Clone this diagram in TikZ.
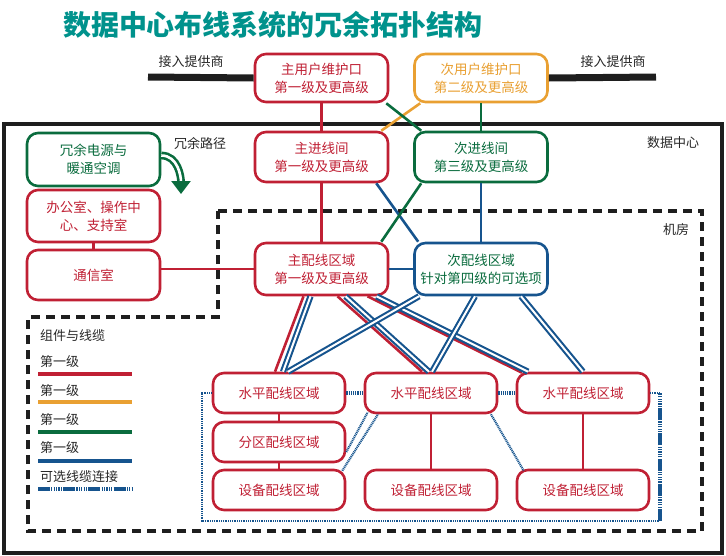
\documentclass[tikz,border=0pt]{standalone}
\usepackage{fontspec}
\setmainfont{Noto Sans CJK SC}
\usetikzlibrary{arrows.meta}

\definecolor{cabred}{RGB}{192,32,52}
\definecolor{cabora}{RGB}{233,160,50}
\definecolor{cabgrn}{RGB}{10,108,62}
\definecolor{cabblu}{RGB}{22,84,142}
\definecolor{titleteal}{RGB}{0,146,140}
\definecolor{framegray}{RGB}{30,30,30}

\begin{document}
\begin{tikzpicture}[x=1pt,y=-1pt,
        box/.style={draw,rounded corners=11pt,line width=2.6pt,fill=white,
            minimum width=133pt,minimum height=50pt,align=center,
            font=\fontsize{13.5}{18}\selectfont},
        redbox/.style={box,draw=cabred,text=cabred},
        orangebox/.style={box,draw=cabora,text=cabora},
        greenbox/.style={box,draw=cabgrn,text=cabgrn},
        bluebox/.style={box,draw=cabblu,text=cabgrn},
        areabox/.style={redbox,minimum width=132pt,minimum height=40pt},
        redline/.style={draw=cabred,line width=2.6pt},
        orangeline/.style={draw=cabora,line width=2.6pt},
        greenline/.style={draw=cabgrn,line width=2.6pt},
        blueline/.style={draw=cabblu,line width=2.6pt},
        bluepair/.style={draw=cabblu,line width=2.1pt,double=white,double distance=2pt},
        optthin/.style={draw=cabblu,line width=2.2pt,dash pattern=on 1pt off 0.8pt},
        optstripe/.style={draw=cabblu,line width=4pt,dash pattern=on 1.2pt off 1pt},
        optlink/.style={draw=cabblu,line width=4pt,dash pattern=on 12pt off 1.2pt on 1.2pt off 1.2pt on 1.2pt off 1.2pt on 1.2pt off 1.2pt on 1.2pt off 1.2pt on 1.2pt off 1.2pt},
        plaintext/.style={inner sep=0pt,font=\fontsize{13}{16}\selectfont,text=black!85},
    ]
        \useasboundingbox (0,0) rectangle (726,555);

        % Coordinates
        \coordinate (provL) at (148,77);
        \coordinate (provR) at (656,77);
        \coordinate (redund) at (181,194);
        \coordinate (loopTL) at (202,393);
        \coordinate (loopBL) at (202,521);
        \coordinate (loopBR) at (660,521);
        \coordinate (loopTR) at (660,393);

        % Title
        \node[font=\fontsize{28}{32}\selectfont\bfseries,text=titleteal] (title) at (273,25) {数据中心布线系统的冗余拓扑结构};

        % Data centre and computer room
        \draw[framegray,line width=4pt] (4,124) rectangle (722,553);
        \draw[framegray,line width=3.6pt,dash pattern=on 9pt off 6pt]
            (218,211) -- (702,211) -- (702,531) -- (28,531) -- (28,317) -- (218,317) -- cycle;
        \node[plaintext] (dclabel) at (673,143) {数据中心};
        \node[plaintext] (roomlabel) at (676,230) {机房};
        \node[plaintext] (pathlabel) at (200,143) {冗余路径};

        % Access providers
        \node[plaintext] (provLlabel) at (191,62) {接入提供商};
        \node[plaintext] (provRlabel) at (613,62) {接入提供商};

        % Boxes
        \node[redbox,minimum height=48pt] (mainmp) at (321.5,78) {主用户维护口\\第一级及更高级};
        \node[orangebox,minimum height=48pt] (secmp) at (481,78) {次用户维护口\\第二级及更高级};
        \node[redbox] (mainer) at (321.5,157) {主进线间\\第一级及更高级};
        \node[greenbox] (secer) at (481,157) {次进线间\\第三级及更高级};
        \node[greenbox,minimum height=53pt] (power) at (93.5,159.5) {冗余电源与\\暖通空调};
        \node[redbox,minimum height=52pt] (office) at (93.5,216) {办公室、操作中\\心、支持室};
        \node[redbox] (telecom) at (93.5,275) {通信室};
        \node[redbox,minimum height=52pt] (mda) at (321.5,269) {主配线区域\\第一级及更高级};
        \node[bluebox,minimum height=52pt] (sda) at (481,269) {次配线区域\\针对第四级的可选项};
        \node[areabox] (hda1) at (279,393) {水平配线区域};
        \node[areabox] (hda2) at (431,393) {水平配线区域};
        \node[areabox] (hda3) at (583,393) {水平配线区域};
        \node[areabox] (zda) at (279,442) {分区配线区域};
        \node[areabox] (eda1) at (279,490) {设备配线区域};
        \node[areabox] (eda2) at (431,490) {设备配线区域};
        \node[areabox] (eda3) at (583,490) {设备配线区域};

        % Provider feeds
        \draw[framegray,line width=7pt] (provL) -- (mainmp.west);
        \draw[framegray,line width=7pt] (secmp.east) -- (provR);

        % Entrance links
        \draw[redline] (mainmp) -- (mainer);
        \draw[greenline] (secmp) -- (secer);
        \draw[orangeline] ([xshift=7pt]secmp.south west) -- ([xshift=-8pt]mainer.north east);
        \draw[greenline] ([xshift=-3pt]mainmp.south east) -- ([xshift=8pt]secer.north west);
        \draw[redline] (mainer) -- (mda);
        \draw[blueline] (secer) -- (sda);
        \draw[blueline] ([xshift=-13pt]mainer.south east) -- ([xshift=5pt]sda.north west);
        \draw[greenline] ([xshift=8pt]secer.south west) -- ([xshift=-8pt]mda.north east);

        % Support rooms
        \draw[greenline,double=white,double distance=2.6pt,-{Triangle[width=19pt,length=13pt]}]
            ([yshift=4pt]power.east) to[out=0,in=90] (redund);
        \draw[redline] (office) -- (telecom);
        \draw[redline] (telecom.east |- mda.west) -- (mda.west);
        \draw[blueline] (mda.east) -- (sda.west);

        % Backbone cabling
        \draw[redline] ([xshift=-18pt]mda.south) -- ([xshift=-4pt]hda1.north);
        \draw[redline] ([xshift=16pt]mda.south) -- ([xshift=-9pt]hda2.north);
        \draw[redline] ([xshift=46pt]mda.south) -- ([xshift=-61pt,yshift=-1pt]hda3.north);
        \draw[bluepair] ([xshift=-11pt]mda.south) -- ([xshift=4pt]hda1.north);
        \draw[bluepair] ([xshift=24pt]mda.south) -- ([xshift=-2pt]hda2.north);
        \draw[bluepair] ([xshift=55pt]mda.south) -- ([xshift=-55pt]hda3.north);
        \draw[bluepair] ([xshift=-62pt]sda.south) -- ([xshift=9pt]hda1.north);
        \draw[bluepair] ([xshift=-6pt]sda.south) -- ([xshift=1pt]hda2.north);
        \draw[bluepair] ([xshift=40pt]sda.south) -- (hda3.north);

        % Horizontal cabling
        \draw[redline] (hda1) -- (zda);
        \draw[redline] (zda) -- (eda1);
        \draw[redline] (hda2) -- (eda2);
        \draw[redline] (hda3) -- (eda3);

        % Optional links
        \draw[optstripe] (hda1) -- (hda2);
        \draw[optstripe] (hda2) -- (hda3);
        \draw[optthin] ([yshift=-10pt]zda.east) -- ([xshift=4pt,yshift=2pt]hda2.south west);
        \draw[optthin] ([xshift=-4pt,yshift=-2pt]eda1.north east) -- ([xshift=-53pt]hda2.south);
        \draw[optthin] ([xshift=60pt]hda2.south) -- ([xshift=8pt,yshift=-2pt]eda3.north west);
        \draw[optthin] (hda1.west) -- (loopTL) -- (loopBL) -- (loopBR);
        \draw[optlink] (loopBR) -- (loopTR);
        \draw[optthin] (loopTR) -- (hda3.east);

        % Legend
        \node[plaintext,anchor=west] (lgtitle) at (40,336) {组件与线缆};
        \node[plaintext,anchor=west] (lgred) at (40,362) {第一级};
        \node[plaintext,anchor=west] (lgorange) at (40,391) {第一级};
        \node[plaintext,anchor=west] (lggreen) at (40,420) {第一级};
        \node[plaintext,anchor=west] (lgblue) at (40,448) {第一级};
        \node[plaintext,anchor=west] (lgopt) at (40,477) {可选线缆连接};
        \draw[cabred,line width=4.5pt] (38,374) -- (132,374);
        \draw[cabora,line width=4.5pt] (38,402) -- (132,402);
        \draw[cabgrn,line width=4.5pt] (38,432) -- (132,432);
        \draw[cabblu,line width=4.5pt] (38,461) -- (132,461);
        \draw[optlink] (38,489) -- (132,489);
    \end{tikzpicture}
\end{document}
